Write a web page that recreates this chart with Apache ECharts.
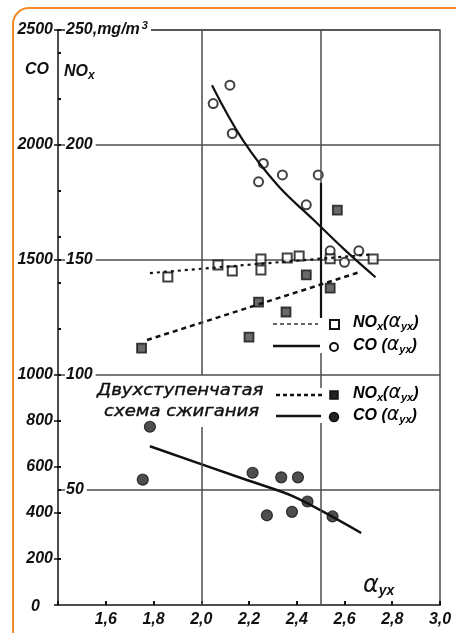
<!DOCTYPE html>
<html>
<head>
    <meta charset="utf-8">
    <title>CO / NOx</title>
    <script src="https://cdn.jsdelivr.net/npm/echarts@6/dist/echarts.min.js"></script>
    <style type="text/css">
        body { margin: 0; background: #fff; }
        #main { width: 456px; height: 633px; }
    </style>
</head>
<body>
<div id="main"></div>
<script type="text/javascript">
    // открытые кружки: CO(a_yx)
    var coX = [2.05, 2.12, 2.13, 2.26, 2.24, 2.34, 2.49, 2.44, 2.54, 2.60, 2.66];
    var coY = [2180, 2260, 2050, 1920, 1840, 1870, 1870, 1740, 1540, 1490, 1540];
    var coFitX = [2.045, 2.175, 2.32, 2.47, 2.60, 2.73];
    var coFitY = [2260, 2020, 1825, 1675, 1545, 1425];

    // открытые квадраты: NOx(a_yx)
    var noxX = [1.86, 2.07, 2.13, 2.25, 2.25, 2.36, 2.41, 2.54, 2.72];
    var noxY = [142.6, 147.8, 145.2, 150.4, 145.7, 150.9, 151.7, 150.5, 150.4];
    var noxFitX = [1.785, 2.72];
    var noxFitY = [144.3, 152.5];

    // двухступенчатая схема: NOx
    var nox2X = [1.75, 2.20, 2.24, 2.355, 2.44, 2.54, 2.57];
    var nox2Y = [111.7, 116.5, 131.7, 127.4, 143.5, 137.8, 171.7];
    var nox2FitX = [1.773, 2.665];
    var nox2FitY = [115.2, 144.8];

    // двухступенчатая схема: CO
    var co2X = [1.785, 1.755, 2.215, 2.335, 2.405, 2.445, 2.275, 2.38, 2.55];
    var co2Y = [775, 545, 575, 555, 555, 450, 390, 405, 385];
    var co2FitX = [1.785, 2.2, 2.39, 2.67];
    var co2FitY = [690, 540, 470, 313];

    // подписи осей
    var coTicks = [0, 200, 400, 600, 800, 1000, 1500, 2000, 2500];
    var noxTicks = [20, 40, 50, 60, 80, 100, 120, 140, 150, 160, 180, 200, 220, 240, 250];

    function pairs(xs, ys) {
        var out = [];
        for (var i = 0; i < xs.length; i++) out.push([xs[i], ys[i]]);
        return out;
    }

    var FONT = 'Liberation Sans';
    var INK = '#111';
    var GRID = '#4d4d4d';

    var myChart = echarts.init(document.getElementById('main'));

    var legendRich = {
        n: { fontFamily: FONT, fontStyle: 'italic', fontWeight: 'bold', fontSize: 16, color: INK },
        s: { fontFamily: FONT, fontStyle: 'italic', fontWeight: 'bold', fontSize: 11, color: INK, padding: [8, 0, 0, 0] },
        a: { fontFamily: 'DejaVu Sans', fontStyle: 'italic', fontSize: 19, color: INK }
    };

    myChart.setOption({
        animation: false,
        backgroundColor: '#fff',
        grid: {
            left: 58, right: 16, top: 30, bottom: 28,
            outerBoundsMode: 'none',
            show: true, borderColor: GRID, borderWidth: 1.5
        },
        xAxis: {
            type: 'value', min: 1.4, max: 3.0, interval: 0.2,
            axisLine: { lineStyle: { color: GRID, width: 2 } },
            axisTick: { inside: true, length: 4, lineStyle: { color: INK, width: 2 } },
            splitLine: { show: false },
            axisLabel: {
                margin: 7, color: INK, fontFamily: FONT, fontStyle: 'italic', fontWeight: 'bold', fontSize: 16,
                formatter: function (v) {
                    if (v < 1.5) return '';
                    return v.toFixed(1).replace('.', ',');
                }
            }
        },
        yAxis: [
            {   // CO, левая шкала
                type: 'value', min: 0, max: 2500, position: 'left',
                axisLine: { show: true, lineStyle: { color: GRID, width: 2 } },
                axisTick: { show: true, length: 4, customValues: coTicks, lineStyle: { color: INK, width: 1.5 } },
                splitLine: { show: false },
                axisLabel: {
                    customValues: coTicks, margin: 5, color: INK,
                    fontFamily: FONT, fontStyle: 'italic', fontWeight: 'bold', fontSize: 16,
                    formatter: function (v) { return v === 0 ? '{z|0}' : String(v); },
                    rich: { z: { fontFamily: FONT, fontStyle: 'italic', fontWeight: 'bold', fontSize: 16, color: INK, padding: [4, 13, 0, 0] } }
                }
            },
            {   // NOx, подписи внутри
                type: 'value', min: 0, max: 250, position: 'left', z: 10,
                axisLine: { show: false },
                axisTick: { show: true, inside: true, length: 3, customValues: noxTicks, lineStyle: { color: INK, width: 2 } },
                splitLine: { show: false },
                axisLabel: {
                    inside: true, margin: 7,
                    customValues: [50, 100, 150, 200, 250],
                    color: INK, fontFamily: FONT, fontStyle: 'italic', fontWeight: 'bold', fontSize: 16,
                    backgroundColor: '#fff', padding: [2, 3, 2, 1],
                    formatter: function (v) { return v === 250 ? '250,mg/m{s|3}' : String(v); },
                    rich: { s: { fontFamily: FONT, fontStyle: 'italic', fontWeight: 'bold', fontSize: 11, color: INK, padding: [0, 0, 8, 2] } }
                }
            },
            {   // сетка по NOx
                type: 'value', min: 0, max: 250, interval: 50, position: 'left',
                axisLine: { show: false }, axisTick: { show: false }, axisLabel: { show: false },
                splitLine: { show: true, lineStyle: { color: GRID, width: 1.5 } }
            }
        ],
        graphic: [
            {
                type: 'rect', silent: true, z: 100,
                shape: { x: 13, y: 8, width: 470, height: 660, r: 16 },
                style: { fill: 'none', stroke: '#f28c28', lineWidth: 2 }
            },
            { type: 'text', x: 25, y: 62, style: { text: 'CO', fontFamily: FONT, fontStyle: 'italic', fontWeight: 'bold', fontSize: 16, fill: INK } },
            {
                type: 'text', x: 64, y: 62,
                style: {
                    text: '{n|NO}{s|x}',
                    rich: {
                        n: { fontFamily: FONT, fontStyle: 'italic', fontWeight: 'bold', fontSize: 16, fill: INK },
                        s: { fontFamily: FONT, fontStyle: 'italic', fontWeight: 'bold', fontSize: 12, fill: INK, padding: [8, 0, 0, 0] }
                    }
                }
            },
            // надпись двухступенчатая схема
            {
                type: 'text', x: 97, y: 383, scaleX: 1.13,
                style: { text: 'Двухступенчатая', fontFamily: 'DejaVu Sans', fontStyle: 'italic', fontSize: 16, fill: INK, stroke: INK, lineWidth: 0.4 }
            },
            {
                type: 'text', x: 104, y: 404, scaleX: 1.13,
                style: { text: 'схема сжигания', fontFamily: 'DejaVu Sans', fontStyle: 'italic', fontSize: 16, fill: INK, stroke: INK, lineWidth: 0.4 }
            },
            // легенда
            { type: 'line', shape: { x1: 273, y1: 324, x2: 318, y2: 324 }, style: { stroke: '#333', lineWidth: 1.5, lineDash: [4, 3] } },
            { type: 'rect', shape: { x: 330, y: 320, width: 9, height: 9 }, style: { fill: '#fff', stroke: INK, lineWidth: 2 } },
            { type: 'text', x: 353, y: 313, style: { text: '{n|NO}{s|x}{n|(}{a|α}{s|yx}{n|)}', rich: legendRich } },
            { type: 'line', shape: { x1: 273, y1: 346, x2: 320, y2: 346 }, style: { stroke: INK, lineWidth: 2.5 } },
            { type: 'circle', shape: { cx: 334, cy: 347, r: 4 }, style: { fill: '#fff', stroke: INK, lineWidth: 2 } },
            { type: 'text', x: 353, y: 336, style: { text: '{n|CO (}{a|α}{s|yx}{n|)}', rich: legendRich } },
            { type: 'line', shape: { x1: 276, y1: 395, x2: 324, y2: 395 }, style: { stroke: INK, lineWidth: 2.5, lineDash: [4, 3] } },
            { type: 'rect', shape: { x: 330, y: 391, width: 8, height: 8 }, style: { fill: '#222', stroke: INK, lineWidth: 1.5 } },
            { type: 'text', x: 353, y: 384, style: { text: '{n|NO}{s|x}{n|(}{a|α}{s|yx}{n|)}', rich: legendRich } },
            { type: 'line', shape: { x1: 276, y1: 416, x2: 321, y2: 416 }, style: { stroke: INK, lineWidth: 2.5 } },
            { type: 'circle', shape: { cx: 334, cy: 417, r: 4.5 }, style: { fill: '#222', stroke: INK, lineWidth: 1.5 } },
            { type: 'text', x: 353, y: 406, style: { text: '{n|CO (}{a|α}{s|yx}{n|)}', rich: legendRich } },
            // имя оси x
            {
                type: 'text', x: 363, y: 574,
                style: {
                    text: '{a|α}{s|yx}',
                    rich: {
                        a: { fontFamily: 'DejaVu Sans', fontStyle: 'italic', fontSize: 24, fill: INK },
                        s: { fontFamily: FONT, fontStyle: 'italic', fontWeight: 'bold', fontSize: 14, fill: INK, padding: [10, 0, 0, 0] }
                    }
                }
            }
        ],
        series: [
            {
                name: 'CO fit', type: 'line', yAxisIndex: 0, smooth: 0.4, symbol: 'none',
                data: pairs(coFitX, coFitY),
                lineStyle: { color: INK, width: 2.2 },
                markLine: {
                    silent: true, symbol: 'none', label: { show: false },
                    lineStyle: { color: GRID, width: 1.5, type: 'solid' },
                    data: [
                        [{ coord: [2.0, 2500] }, { coord: [2.0, 1000] }],
                        [{ coord: [2.0, 774] }, { coord: [2.0, 0] }],
                        [{ coord: [2.5, 2500] }, { coord: [2.5, 1835] }],
                        [{ coord: [2.5, 1835], lineStyle: { color: INK, width: 2.2 } }, { coord: [2.5, 1248] }],
                        [{ coord: [2.5, 1096] }, { coord: [2.5, 943] }],
                        [{ coord: [2.5, 791] }, { coord: [2.5, 0] }]
                    ]
                }
            },
            {
                name: 'NOx fit', type: 'line', yAxisIndex: 1, symbol: 'none',
                data: pairs(noxFitX, noxFitY),
                lineStyle: { color: INK, width: 2.2, type: [3, 4] }
            },
            {
                name: 'NOx2 fit', type: 'line', yAxisIndex: 1, symbol: 'none',
                data: pairs(nox2FitX, nox2FitY),
                lineStyle: { color: INK, width: 2.5, type: [5, 4] }
            },
            {
                name: 'CO2 fit', type: 'line', yAxisIndex: 0, smooth: 0.3, symbol: 'none',
                data: pairs(co2FitX, co2FitY),
                lineStyle: { color: INK, width: 2.5 }
            },
            {
                name: 'CO(a)', type: 'scatter', yAxisIndex: 0, symbol: 'circle', symbolSize: 9,
                data: pairs(coX, coY),
                itemStyle: { color: '#fff', borderColor: INK, borderWidth: 2 }
            },
            {
                name: 'NOx(a)', type: 'scatter', yAxisIndex: 1, symbol: 'rect', symbolSize: 9,
                data: pairs(noxX, noxY),
                itemStyle: { color: '#fff', borderColor: INK, borderWidth: 2 }
            },
            {
                name: 'NOx2(a)', type: 'scatter', yAxisIndex: 1, symbol: 'rect', symbolSize: 9,
                data: pairs(nox2X, nox2Y),
                itemStyle: { color: '#444', borderColor: INK, borderWidth: 1.8 }
            },
            {
                name: 'CO2(a)', type: 'scatter', yAxisIndex: 0, symbol: 'circle', symbolSize: 11,
                data: pairs(co2X, co2Y),
                itemStyle: { color: '#222', borderColor: INK, borderWidth: 1.2 }
            }
        ]
    });
</script>
</body>
</html>
